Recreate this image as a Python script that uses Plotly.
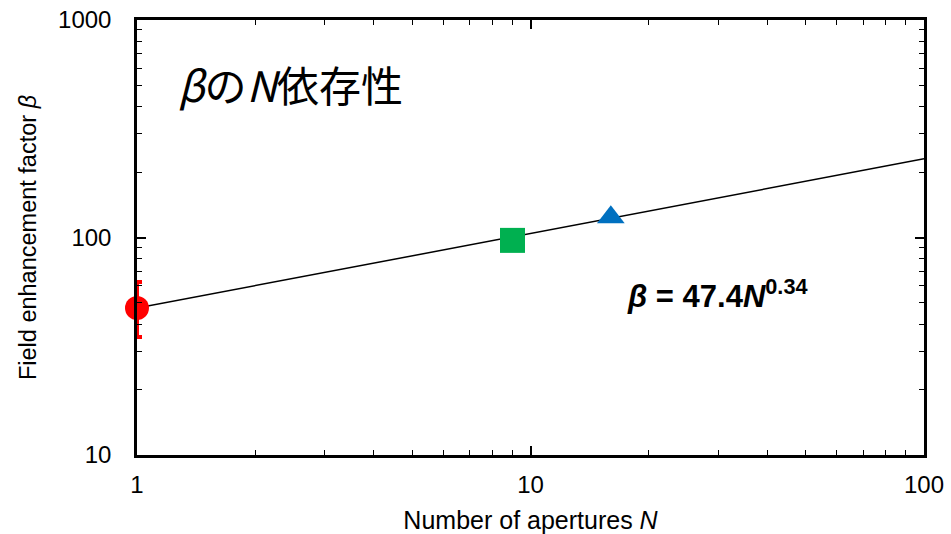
import plotly.graph_objects as go

# Data
single_N = [1]
single_beta = [47.4]
single_err_plus = [15]
single_err_minus = [12.5]

square_N = [9]
square_beta = [97]

triangle_N = [16]
triangle_beta = [124]

fit_N = [1, 100]
fit_beta = [47.4, 230]

x_ticks = [1, 10, 100]
y_ticks = [10, 100, 1000]

fig = go.Figure()

fig.add_trace(go.Scatter(x=fit_N, y=fit_beta, mode="lines",
                         line=dict(color="black", width=1.5), showlegend=False))
fig.add_trace(go.Scatter(x=square_N, y=square_beta, mode="markers",
                         marker=dict(symbol="square", size=25, color="#00B050"), showlegend=False))
fig.add_trace(go.Scatter(x=triangle_N, y=triangle_beta, mode="markers",
                         marker=dict(symbol="triangle-up", size=24, color="#0070C0"), showlegend=False))
fig.add_trace(go.Scatter(x=single_N, y=single_beta, mode="markers",
                         marker=dict(symbol="circle", size=24, color="#FF0000"),
                         error_y=dict(type="data", symmetric=False, array=single_err_plus,
                                      arrayminus=single_err_minus, color="#FF0000",
                                      thickness=4, width=5),
                         cliponaxis=False, showlegend=False))

axis_font = dict(family="Liberation Sans, Arial", size=24, color="black")

fig.update_xaxes(type="log", range=[0, 2], tickvals=x_ticks, ticktext=[str(v) for v in x_ticks],
                 ticks="inside", ticklen=9, tickwidth=1.5, tickcolor="black",
                 showline=True, linewidth=2.5, linecolor="black", mirror="ticks",
                 showgrid=False, zeroline=False, tickfont=axis_font, ticklabelstandoff=6,
                 automargin=False,
                 minor=dict(ticks="inside", ticklen=5, tickwidth=1, tickcolor="black",
                            dtick="D1", showgrid=False),
                 title=dict(text="Number of apertures <i>N</i>",
                            font=dict(family="Liberation Sans, Arial", size=25, color="black")))
fig.update_yaxes(type="log", range=[1, 3], tickvals=y_ticks, ticktext=[str(v) for v in y_ticks],
                 ticks="inside", ticklen=9, tickwidth=1.5, tickcolor="black",
                 showline=True, linewidth=2.5, linecolor="black", mirror="ticks",
                 showgrid=False, zeroline=False, tickfont=axis_font, ticklabelstandoff=18,
                 automargin=False,
                 minor=dict(ticks="inside", ticklen=5, tickwidth=1, tickcolor="black",
                            dtick="D1", showgrid=False),
                 title=dict(text="Field enhancement factor <i>β</i>",
                            font=dict(family="Liberation Sans, Arial", size=23.5, color="black")))

fig.add_annotation(x=0.050, y=0.855, xref="paper", yref="paper", xanchor="left", yanchor="middle",
                   text="<i>β</i>の<i>N</i>依存性", showarrow=False,
                   font=dict(family="Noto Sans CJK JP", size=42, color="black"))
fig.add_annotation(x=0.62, y=0.37, xref="paper", yref="paper", xanchor="left", yanchor="middle",
                   text="<b><i>β</i> = 47.4<i>N</i><sup>0.34</sup></b>", showarrow=False,
                   font=dict(family="Liberation Sans, Arial", size=31, color="black"))

fig.update_layout(width=951, height=534, margin=dict(l=137, r=27, t=20, b=79),
                  plot_bgcolor="white", paper_bgcolor="white")

fig.write_html("out.html")
